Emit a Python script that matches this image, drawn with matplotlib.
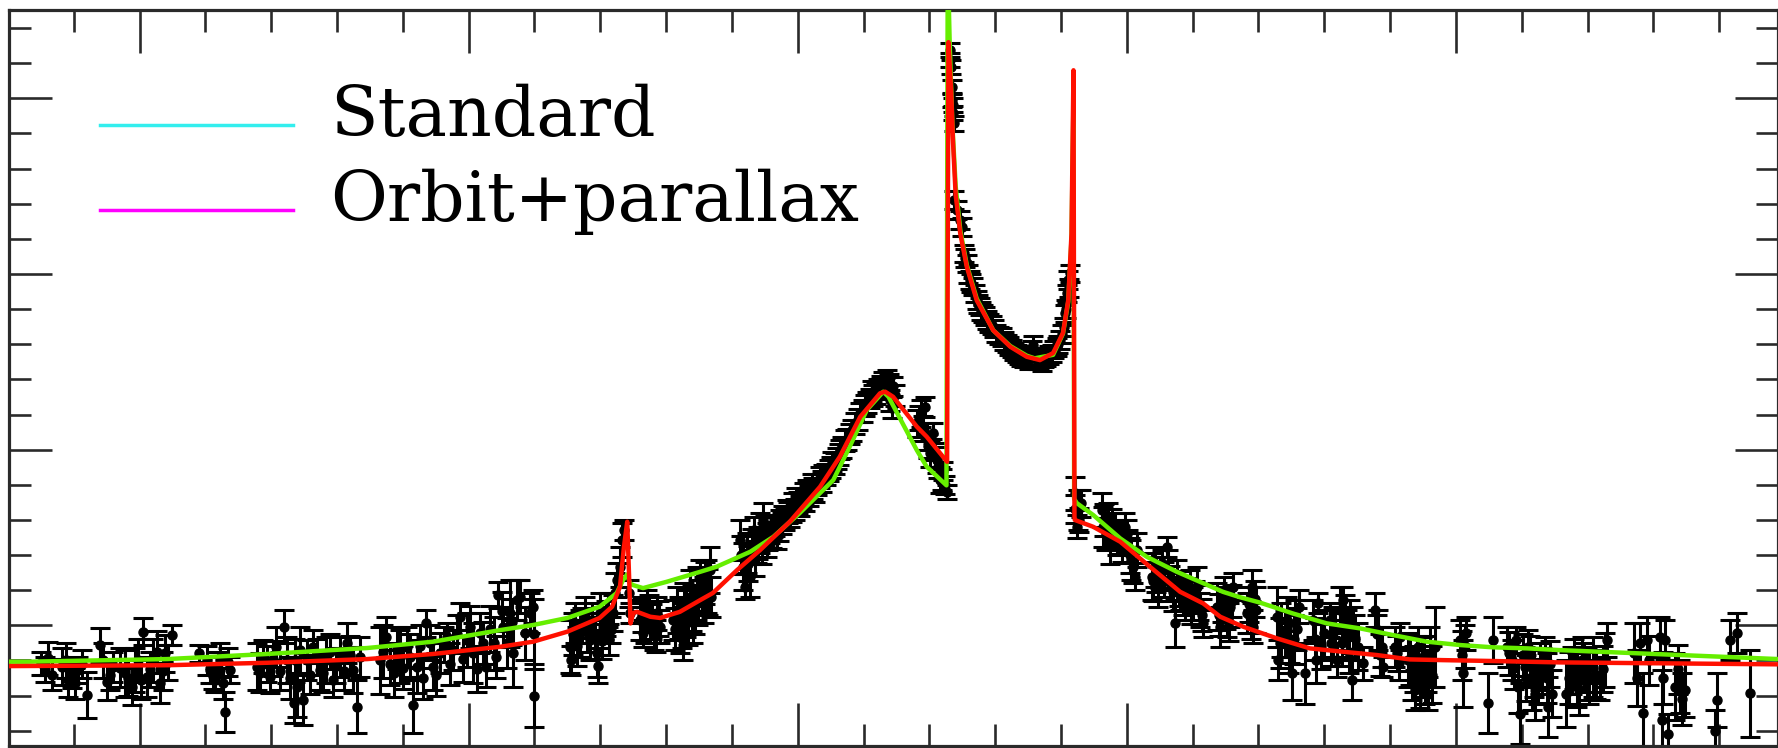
import matplotlib
matplotlib.use("Agg")
import matplotlib.pyplot as plt
from matplotlib.ticker import MultipleLocator
from matplotlib.lines import Line2D
from matplotlib.legend_handler import HandlerLine2D

# ---------------- data (time in days, brightness in arbitrary units) ----------------
# observed points: (t, y, err)
baseline_pts = [
    (-1.49, -0.217, 0.066), (-1.39, -0.188, 0.095), (-1.18, -0.235, 0.104), (-1.08, -0.311, 0.095),
    (-1.03, -0.273, 0.085), (-0.93, -0.254, 0.076), (-0.80, -0.397, 0.133), (-0.60, -0.112, 0.095),
    (-0.50, -0.321, 0.104), (-0.40, -0.235, 0.085), (-0.22, -0.273, 0.133), (-0.12, -0.349, 0.104),
    (-0.07, -0.254, 0.123), (0.06, -0.036, 0.076), (0.11, -0.292, 0.114), (0.21, -0.198, 0.123),
    (0.31, -0.330, 0.114), (0.39, -0.160, 0.104), (0.49, -0.055, 0.057), (0.91, -0.160, 0.047),
    (1.07, -0.254, 0.076), (1.15, -0.311, 0.066), (1.22, -0.198, 0.095), (1.30, -0.492, 0.114),
    (1.38, -0.254, 0.076), (1.78, -0.235, 0.133), (1.88, -0.179, 0.095), (1.98, -0.292, 0.095),
    (2.08, -0.122, 0.114), (2.19, -0.008, 0.095), (2.24, -0.198, 0.133), (2.34, -0.444, 0.114),
    (2.39, -0.349, 0.171), (2.44, -0.141, 0.133), (2.49, -0.425, 0.142), (2.54, -0.198, 0.114),
    (2.64, -0.122, 0.095), (2.74, -0.254, 0.114), (2.84, -0.198, 0.133), (2.94, -0.311, 0.095),
    (3.05, -0.179, 0.114), (3.15, -0.103, 0.114), (3.25, -0.254, 0.133), (3.30, -0.463, 0.152),
    (3.35, -0.179, 0.114), (3.65, -0.198, 0.190), (3.75, -0.065, 0.114), (3.86, -0.273, 0.133),
    (3.96, -0.179, 0.152), (4.06, -0.122, 0.114), (4.16, -0.454, 0.161), (4.21, -0.235, 0.152),
    (4.36, 0.011, 0.076), (4.46, -0.235, 0.133), (4.57, -0.160, 0.114), (4.67, -0.065, 0.076),
    (4.77, -0.141, 0.114), (4.87, 0.049, 0.076), (4.97, -0.084, 0.152), (5.07, -0.160, 0.171),
    (5.17, -0.046, 0.114), (5.27, -0.235, 0.114), (5.38, -0.103, 0.152), (5.45, 0.172, 0.076),
    (5.53, -0.008, 0.114), (5.63, 0.068, 0.190), (5.68, -0.160, 0.190), (5.73, 0.144, 0.114),
    (5.78, 0.163, 0.095), (5.86, -0.046, 0.152), (5.93, 0.068, 0.114), (5.98, 0.106, 0.095),
    (5.99, -0.05, 0.200), (5.99, -0.40, 0.180),
    (-1.44, -0.25, 0.07), (-1.33, -0.28, 0.09), (-1.12, -0.20, 0.10), (-0.98, -0.33, 0.09),
    (-0.88, -0.22, 0.08), (-0.55, -0.20, 0.10), (-0.45, -0.28, 0.09), (-0.30, -0.24, 0.11),
    (-0.17, -0.30, 0.10), (-0.02, -0.20, 0.12), (0.03, -0.31, 0.11), (0.16, -0.25, 0.10),
    (0.26, -0.15, 0.12), (0.35, -0.26, 0.11), (0.44, -0.21, 0.10), (1.02, -0.20, 0.08),
    (1.11, -0.29, 0.07), (1.19, -0.24, 0.09), (1.27, -0.33, 0.09), (1.34, -0.21, 0.08),
    (1.83, -0.27, 0.11), (1.93, -0.22, 0.10), (2.03, -0.19, 0.10), (2.13, -0.26, 0.11),
    (2.29, -0.30, 0.12), (2.36, -0.20, 0.12), (2.59, -0.28, 0.11), (2.69, -0.18, 0.10),
    (2.79, -0.27, 0.11), (2.89, -0.15, 0.10), (2.99, -0.23, 0.10), (3.10, -0.26, 0.11),
    (3.20, -0.17, 0.11), (3.70, -0.15, 0.15), (3.80, -0.22, 0.12), (3.91, -0.13, 0.12),
    (4.01, -0.24, 0.12), (4.11, -0.18, 0.13), (4.26, -0.12, 0.12), (4.31, -0.30, 0.12),
    (4.41, -0.10, 0.10), (4.51, -0.28, 0.12), (4.62, -0.11, 0.10), (4.72, -0.22, 0.12),
    (4.82, -0.05, 0.11), (4.92, -0.19, 0.13), (5.02, -0.01, 0.12), (5.12, -0.25, 0.13),
    (5.22, -0.10, 0.12), (5.32, -0.02, 0.13), (5.42, -0.18, 0.12), (5.50, 0.08, 0.11),
    (5.58, -0.10, 0.14), (5.66, 0.02, 0.13),
]

small_caustic_pts = [
    (6.54, -0.121, 0.152), (6.55, -0.20, 0.080), (6.62, 0.011, 0.114), (6.69, -0.046, 0.133),
    (6.77, 0.068, 0.095), (6.84, -0.084, 0.114), (6.95, -0.160, 0.133), (6.97, -0.23, 0.100),
    (7.00, 0.068, 0.114), (7.05, 0.011, 0.095), (7.12, 0.087, 0.095), (7.17, -0.027, 0.076),
    (7.22, 0.182, 0.114), (7.25, 0.258, 0.095), (7.30, 0.334, 0.114), (7.33, 0.486, 0.095),
    (7.36, 0.542, 0.057), (7.43, 0.182, 0.076), (7.45, 0.068, 0.057),
    (7.60, 0.030, 0.114), (7.65, -0.046, 0.076), (7.71, 0.106, 0.095), (7.76, 0.011, 0.114),
    (7.81, -0.027, 0.114), (7.86, 0.068, 0.095), (7.91, -0.008, 0.095),
    (8.11, 0.030, 0.114), (8.16, 0.087, 0.133), (8.21, -0.046, 0.114), (8.26, -0.084, 0.114),
    (8.31, 0.068, 0.133), (8.36, 0.163, 0.152), (8.41, 0.030, 0.133), (8.47, 0.182, 0.152),
    (8.52, 0.258, 0.114), (8.57, 0.144, 0.133), (8.62, 0.220, 0.152), (8.67, 0.315, 0.133),
    (8.69, 0.163, 0.114),
    (6.58, -0.05, 0.12), (6.65, -0.12, 0.11), (6.73, 0.00, 0.10), (6.80, -0.04, 0.11),
    (6.88, 0.03, 0.10), (6.92, -0.07, 0.12), (7.02, -0.09, 0.10), (7.09, 0.04, 0.10),
    (7.14, -0.08, 0.09), (7.20, 0.07, 0.10), (7.63, 0.06, 0.10), (7.68, -0.01, 0.09),
    (7.74, 0.07, 0.10), (7.79, 0.02, 0.10), (7.84, -0.06, 0.09), (7.89, 0.04, 0.10),
    (8.13, -0.02, 0.12), (8.19, 0.04, 0.12), (8.24, 0.00, 0.13), (8.28, 0.12, 0.12),
    (8.34, 0.02, 0.13), (8.39, 0.10, 0.13), (8.44, 0.08, 0.13), (8.49, 0.13, 0.13),
    (8.54, 0.20, 0.12), (8.59, 0.24, 0.12), (8.64, 0.19, 0.13),
]

rise_pts = [
    (9.12, 0.486, 0.114), (9.17, 0.334, 0.133), (9.20, 0.22, 0.070), (9.23, 0.410, 0.114),
    (9.28, 0.277, 0.114), (9.33, 0.542, 0.076), (9.38, 0.448, 0.095), (9.43, 0.524, 0.114),
    (9.48, 0.600, 0.095), (9.53, 0.486, 0.095),
    (9.58, 0.53, 0.060), (9.63, 0.56, 0.055), (9.68, 0.50, 0.065), (9.73, 0.60, 0.055),
    (9.78, 0.62, 0.060), (9.83, 0.66, 0.055), (9.88, 0.62, 0.060), (9.93, 0.70, 0.055),
    (9.98, 0.72, 0.060), (10.04, 0.68, 0.055), (10.09, 0.75, 0.060), (10.14, 0.77, 0.055),
    (10.21, 0.80, 0.060), (10.26, 0.76, 0.055), (10.34, 0.84, 0.060), (10.39, 0.86, 0.055),
    (10.47, 0.88, 0.060), (10.52, 0.93, 0.055), (10.59, 0.95, 0.060), (10.64, 1.00, 0.055),
    (10.72, 1.05, 0.060), (10.79, 1.09, 0.055), (10.87, 1.15, 0.060), (10.95, 1.21, 0.055),
    (11.02, 1.25, 0.060), (11.10, 1.29, 0.055), (11.15, 1.31, 0.060), (11.22, 1.35, 0.055),
    (11.30, 1.38, 0.060), (11.35, 1.40, 0.055), (11.40, 1.28, 0.060), (11.43, 1.24, 0.060),
    (11.45, 1.36, 0.055),
    (9.14, 0.40, 0.11), (9.25, 0.35, 0.10), (9.30, 0.45, 0.10), (9.35, 0.38, 0.10),
    (9.40, 0.47, 0.09), (9.45, 0.44, 0.09), (9.50, 0.54, 0.08), (9.55, 0.50, 0.07),
    (9.61, 0.50, 0.06), (9.66, 0.57, 0.06), (9.71, 0.54, 0.06), (9.76, 0.58, 0.06),
    (9.81, 0.60, 0.06), (9.86, 0.64, 0.06), (9.91, 0.65, 0.06), (9.96, 0.66, 0.06),
    (10.01, 0.70, 0.06), (10.06, 0.72, 0.06), (10.11, 0.71, 0.06), (10.17, 0.74, 0.06),
    (10.24, 0.78, 0.06), (10.30, 0.80, 0.06), (10.37, 0.82, 0.06), (10.43, 0.86, 0.06),
    (10.50, 0.90, 0.06), (10.56, 0.92, 0.06), (10.62, 0.97, 0.06), (10.68, 1.01, 0.06),
    (10.75, 1.06, 0.06), (10.83, 1.11, 0.06), (10.91, 1.17, 0.06), (10.99, 1.22, 0.06),
    (11.06, 1.27, 0.06), (11.13, 1.33, 0.06), (11.19, 1.32, 0.06), (11.26, 1.36, 0.06),
    (11.33, 1.35, 0.06), (11.38, 1.37, 0.06), (11.48, 1.31, 0.06),
    (11.81, 1.150, 0.076), (11.88, 1.207, 0.076), (11.93, 1.245, 0.057), (11.96, 1.074, 0.076),
    (12.01, 0.979, 0.076), (12.06, 1.093, 0.057), (12.11, 0.941, 0.076), (12.16, 0.827, 0.076),
    (12.21, 0.88, 0.050), (12.24, 0.80, 0.050), (12.27, 0.76, 0.040),
    (11.84, 1.18, 0.07), (11.90, 1.12, 0.07), (11.98, 1.02, 0.07), (12.04, 1.00, 0.06),
    (12.08, 0.97, 0.07), (12.13, 0.90, 0.06), (12.19, 0.83, 0.06),
]

caustic_u_pts = [
    (12.31, 3.275, 0.040), (12.32, 3.22, 0.040), (12.33, 3.18, 0.040), (12.34, 3.066, 0.040),
    (12.35, 2.99, 0.040), (12.36, 2.96, 0.040), (12.36, 2.915, 0.040), (12.37, 2.857, 0.040),
    (12.37, 2.421, 0.050), (12.42, 2.364, 0.050), (12.47, 2.307, 0.050), (12.49, 2.269, 0.050),
    (12.52, 2.117, 0.050), (12.57, 2.061, 0.050), (12.62, 1.966, 0.050), (12.67, 1.928, 0.050),
    (12.72, 1.852, 0.050), (12.77, 1.814, 0.050), (12.82, 1.776, 0.050), (12.87, 1.738, 0.050),
    (12.95, 1.709, 0.050), (13.02, 1.662, 0.050), (13.10, 1.643, 0.050), (13.18, 1.605, 0.050),
    (13.25, 1.577, 0.050), (13.33, 1.548, 0.050), (13.40, 1.529, 0.050), (13.48, 1.519, 0.050),
    (13.56, 1.567, 0.050), (13.58, 1.596, 0.050), (13.63, 1.510, 0.050), (13.71, 1.500, 0.050),
    (13.78, 1.529, 0.050), (13.86, 1.548, 0.050), (13.94, 1.586, 0.050), (13.99, 1.624, 0.050),
    (14.04, 1.700, 0.050), (14.06, 1.776, 0.050), (14.09, 1.890, 0.050), (14.11, 1.966, 0.050),
    (14.13, 2.004, 0.050),
    (12.54, 2.09, 0.05), (12.59, 2.00, 0.05), (12.64, 1.95, 0.05), (12.70, 1.89, 0.05),
    (12.74, 1.83, 0.05), (12.79, 1.79, 0.05), (12.84, 1.76, 0.05), (12.90, 1.72, 0.05),
    (12.98, 1.69, 0.05), (13.06, 1.65, 0.05), (13.14, 1.62, 0.05), (13.21, 1.59, 0.05),
    (13.29, 1.56, 0.05), (13.36, 1.54, 0.05), (13.44, 1.52, 0.05), (13.52, 1.51, 0.05),
    (13.60, 1.53, 0.05), (13.67, 1.51, 0.05), (13.74, 1.52, 0.05), (13.82, 1.54, 0.05),
    (13.90, 1.57, 0.05), (13.96, 1.60, 0.05), (14.01, 1.66, 0.05), (14.07, 1.80, 0.05),
    (14.12, 1.92, 0.05),
]

decline_pts = [
    (14.21, 0.751, 0.095), (14.24, 0.561, 0.066), (14.26, 0.656, 0.114), (14.30, 0.694, 0.076),
    (14.62, 0.656, 0.095), (14.64, 0.561, 0.114), (14.72, 0.618, 0.076), (14.75, 0.466, 0.114),
    (14.82, 0.542, 0.095), (14.90, 0.504, 0.095), (14.97, 0.561, 0.076), (15.02, 0.448, 0.095),
    (15.07, 0.372, 0.114), (15.13, 0.277, 0.076), (15.15, 0.429, 0.095), (15.38, 0.277, 0.133),
    (15.43, 0.334, 0.114), (15.48, 0.220, 0.114), (15.53, 0.353, 0.076), (15.61, 0.448, 0.057),
    (15.63, 0.315, 0.114), (15.73, 0.011, 0.133), (15.76, 0.258, 0.114), (15.81, 0.182, 0.095),
    (15.88, 0.144, 0.114), (15.96, 0.220, 0.095), (16.01, 0.125, 0.095), (16.06, 0.220, 0.114),
    (16.11, 0.087, 0.095), (16.16, 0.011, 0.076), (16.37, 0.106, 0.133), (16.42, -0.008, 0.114),
    (16.47, 0.182, 0.095), (16.52, 0.049, 0.114), (16.57, 0.106, 0.114), (16.62, 0.220, 0.076),
    (16.82, 0.068, 0.114), (16.90, 0.220, 0.095), (16.92, -0.008, 0.095), (16.97, 0.087, 0.133),
    (14.22, 0.66, 0.08), (14.27, 0.60, 0.07), (14.66, 0.60, 0.09), (14.69, 0.52, 0.09),
    (14.78, 0.58, 0.08), (14.85, 0.49, 0.09), (14.93, 0.45, 0.09), (15.00, 0.52, 0.08),
    (15.05, 0.40, 0.10), (15.10, 0.33, 0.09), (15.40, 0.25, 0.11), (15.45, 0.29, 0.10),
    (15.50, 0.30, 0.09), (15.56, 0.26, 0.10), (15.66, 0.24, 0.10), (15.70, 0.19, 0.11),
    (15.79, 0.21, 0.10), (15.85, 0.16, 0.10), (15.91, 0.18, 0.09), (15.98, 0.11, 0.10),
    (16.04, 0.16, 0.09), (16.09, 0.13, 0.10), (16.14, 0.06, 0.09), (16.40, 0.06, 0.12),
    (16.45, 0.12, 0.10), (16.50, 0.09, 0.11), (16.55, 0.02, 0.11), (16.60, 0.14, 0.09),
    (16.85, 0.12, 0.10), (16.88, 0.03, 0.11), (16.95, 0.15, 0.10),
]

tail_pts = [
    (17.28, 0.049, 0.171), (17.30, -0.198, 0.114), (17.35, -0.027, 0.152), (17.43, 0.030, 0.133),
    (17.48, -0.103, 0.114), (17.51, -0.274, 0.152), (17.56, 0.011, 0.133), (17.61, 0.106, 0.095),
    (17.71, -0.274, 0.171), (17.83, 0.030, 0.114), (17.88, -0.198, 0.133), (17.91, 0.125, 0.057),
    (17.99, -0.046, 0.133), (18.09, 0.030, 0.095), (18.14, -0.046, 0.152), (18.19, -0.198, 0.095),
    (18.24, 0.087, 0.133), (18.29, 0.144, 0.076), (18.34, -0.046, 0.133), (18.39, 0.030, 0.114),
    (18.42, -0.312, 0.114), (18.44, -0.027, 0.133), (18.52, -0.122, 0.133), (18.59, -0.217, 0.095),
    (18.77, 0.087, 0.095), (18.82, -0.027, 0.114), (18.87, -0.122, 0.114), (18.90, -0.236, 0.057),
    (19.08, -0.122, 0.114), (19.13, -0.217, 0.095), (19.15, -0.065, 0.076), (19.28, -0.198, 0.152),
    (19.33, -0.274, 0.152), (19.38, -0.369, 0.114), (19.43, -0.122, 0.114), (19.48, -0.236, 0.171),
    (19.53, -0.293, 0.152), (19.58, -0.388, 0.095), (19.61, -0.179, 0.171), (19.68, -0.122, 0.228),
    (20.06, -0.084, 0.114), (20.11, -0.274, 0.190), (20.16, -0.046, 0.095), (20.49, -0.444, 0.171),
    (20.57, -0.084, 0.133), (20.77, -0.122, 0.114), (20.85, -0.198, 0.114), (20.92, -0.084, 0.076),
    (20.97, -0.502, 0.171), (21.05, -0.236, 0.114), (21.10, -0.122, 0.095), (21.15, -0.312, 0.171),
    (21.20, -0.388, 0.152), (21.28, -0.236, 0.133), (21.35, -0.160, 0.095), (21.40, -0.463, 0.171),
    (21.46, -0.388, 0.133),
    (21.68, -0.388, 0.190), (21.76, -0.255, 0.133), (21.84, -0.312, 0.152), (21.91, -0.198, 0.133),
    (21.99, -0.274, 0.152), (22.09, -0.236, 0.171), (22.19, -0.312, 0.114), (22.27, -0.198, 0.152),
    (22.29, -0.084, 0.095), (22.70, -0.160, 0.171), (22.80, -0.103, 0.114), (22.85, -0.501, 0.228),
    (22.90, -0.084, 0.133), (23.10, -0.065, 0.114), (23.13, -0.539, 0.285), (23.18, -0.084, 0.114),
    (23.23, -0.616, 0.114), (23.33, -0.349, 0.190), (23.40, -0.349, 0.152), (23.48, -0.368, 0.152),
    (23.94, -0.600, 0.120), (23.96, -0.425, 0.152), (24.16, -0.084, 0.114), (24.27, -0.046, 0.114),
    (24.47, -0.387, 0.247),
    (17.33, -0.10, 0.14), (17.40, -0.05, 0.13), (17.46, -0.15, 0.12), (17.54, -0.08, 0.14),
    (17.59, -0.02, 0.12), (17.86, -0.08, 0.12), (17.95, -0.12, 0.13), (18.11, -0.10, 0.13),
    (18.17, -0.02, 0.12), (18.27, -0.10, 0.13), (18.32, 0.05, 0.12), (18.37, -0.15, 0.12),
    (18.47, -0.07, 0.13), (18.80, -0.05, 0.11), (18.85, -0.17, 0.12), (19.10, -0.16, 0.10),
    (19.31, -0.20, 0.14), (19.36, -0.25, 0.13), (19.41, -0.18, 0.12), (19.46, -0.32, 0.15),
    (19.51, -0.20, 0.14), (19.56, -0.26, 0.12), (19.64, -0.28, 0.16), (20.09, -0.17, 0.14),
    (20.14, -0.12, 0.12), (20.80, -0.16, 0.12), (20.88, -0.24, 0.12), (20.95, -0.35, 0.15),
    (21.02, -0.17, 0.12), (21.07, -0.30, 0.13), (21.13, -0.20, 0.14), (21.18, -0.27, 0.14),
    (21.25, -0.32, 0.13), (21.31, -0.26, 0.13), (21.38, -0.30, 0.14), (21.43, -0.22, 0.13),
    (21.72, -0.30, 0.15), (21.80, -0.22, 0.14), (21.87, -0.36, 0.15), (21.95, -0.24, 0.14),
    (22.03, -0.30, 0.15), (22.13, -0.28, 0.14), (22.23, -0.25, 0.13), (22.75, -0.30, 0.16),
    (22.93, -0.20, 0.14), (23.15, -0.30, 0.15), (23.37, -0.25, 0.14), (23.44, -0.42, 0.15),
]

# model curves
standard_t = [-2.0, -1.71, 0.42, 1.94, 3.46, 4.46, 5.48, 5.98, 6.50, 6.99,
              7.25, 7.35, 7.41, 7.45, 7.50, 7.65, 8.01, 8.52, 8.77, 9.28,
              9.63, 10.03, 10.54, 10.79, 11.05, 11.30, 11.38, 11.81, 11.96, 12.26,
              12.28, 12.31, 12.35, 12.40, 12.47, 12.57, 12.72, 12.97, 13.23, 13.48,
              13.60, 13.88, 14.03, 14.11, 14.16, 14.19, 14.20, 14.24, 14.49, 14.90,
              15.30, 15.76, 16.16, 16.46, 16.72, 17.02, 17.52, 18.04, 18.54, 19.04,
              19.56, 20.06, 20.56, 21.08, 21.58, 24.9]
standard_y = [-0.207, -0.207, -0.192, -0.163, -0.129, -0.093, -0.027, 0.002, 0.042, 0.106,
              0.184, 0.26, 0.29, 0.24, 0.229, 0.212, 0.248, 0.305, 0.334, 0.419,
              0.504, 0.639, 0.827, 1.017, 1.226, 1.330, 1.301, 0.997, 0.903, 0.797,
              3.8, 3.3, 2.85, 2.5, 2.25, 2.05, 1.86, 1.68, 1.59, 1.535,
              1.52, 1.54, 1.66, 1.84, 2.2, 3.0, 0.72, 0.696, 0.628, 0.495,
              0.391, 0.305, 0.240, 0.191, 0.160, 0.130, 0.068, 0.011, -0.017, -0.055,
              -0.093, -0.112, -0.125, -0.131, -0.141, -0.192]

orbit_t = [-2.0, 0.42, 1.94, 3.46, 4.46, 5.48, 5.98, 6.50, 6.99, 7.18,
           7.30, 7.36, 7.41, 7.44, 7.46, 7.50, 7.56, 7.76, 7.91, 8.21,
           8.52, 8.71, 9.08, 9.43, 9.88, 10.34, 10.64, 10.95, 11.25, 11.33,
           11.45, 11.81, 11.96, 12.27, 12.29, 12.30, 12.33, 12.36, 12.40, 12.47,
           12.57, 12.72, 12.97, 13.23, 13.48, 13.68, 13.88, 14.03, 14.11, 14.16,
           14.19, 14.205, 14.21, 14.49, 14.90, 15.35, 15.81, 16.16, 16.42, 16.77,
           17.28, 17.78, 18.28, 18.80, 19.30, 19.80, 20.56, 21.58, 24.9]
orbit_y = [-0.232, -0.227, -0.213, -0.192, -0.163, -0.122, -0.093, -0.036, 0.042, 0.106,
           0.220, 0.447, 0.590, 0.258, 0.011, 0.070, 0.077, 0.049, 0.042, 0.077,
           0.144, 0.184, 0.315, 0.429, 0.590, 0.789, 0.960, 1.187, 1.321, 1.330,
           1.301, 1.131, 1.074, 0.931, 3.32, 3.25, 3.05, 2.75, 2.45, 2.23,
           2.04, 1.85, 1.68, 1.586, 1.529, 1.51, 1.55, 1.664, 1.85, 2.23,
           3.16, 0.62, 0.60, 0.561, 0.476, 0.334, 0.191, 0.125, 0.049, -0.008,
           -0.074, -0.131, -0.150, -0.169, -0.194, -0.198, -0.203, -0.211, -0.222]

legend_labels = ["Standard", "Orbit+parallax"]
legend_colors = ["#33EEEE", "#FF00FF"]


class LowLineHandler(HandlerLine2D):
    """Legend line drawn a little above the text baseline, as in the original."""
    def create_artists(self, legend, orig_handle, xdescent, ydescent, width, height,
                       fontsize, trans):
        arts = super().create_artists(legend, orig_handle, xdescent, ydescent, width,
                                      height, fontsize, trans)
        for a in arts:
            a.set_ydata([0.16 * fontsize] * len(a.get_xdata()))
        return arts


# ---------------- figure ----------------
W, H, DPI = 1778, 748, 100
fig = plt.figure(figsize=(W / DPI, H / DPI), dpi=DPI)
ax = fig.add_axes([9 / W, 2.5 / H, 1 - 9 / W, (H - 10 - 2.5) / H])

all_pts = baseline_pts + small_caustic_pts + rise_pts + caustic_u_pts + decline_pts + tail_pts
t = [p[0] for p in all_pts]
y = [p[1] for p in all_pts]
e = [p[2] for p in all_pts]

ax.errorbar(t, y, yerr=e, fmt='o', color='black', ms=6.5, elinewidth=2.2,
            capsize=7, capthick=2.2, zorder=2)
ax.plot(standard_t, standard_y, color='#66EE00', lw=3.2, zorder=3)
ax.plot(orbit_t, orbit_y, color='#FF1000', lw=3.2, zorder=4)

ax.set_xlim(-1.983, 24.894)
ax.set_ylim(-0.684, 3.503)

ax.xaxis.set_major_locator(MultipleLocator(5))
ax.xaxis.set_minor_locator(MultipleLocator(1))
ax.yaxis.set_major_locator(MultipleLocator(1))
ax.yaxis.set_minor_locator(MultipleLocator(0.2))
ax.tick_params(which='both', direction='in', top=True, right=True, bottom=True, left=True,
               labelbottom=False, labelleft=False, color='#2a2a2a', width=1.9)
ax.tick_params(which='major', length=31)
ax.tick_params(which='minor', length=16)
for s in ax.spines.values():
    s.set_linewidth(2.3)
    s.set_color('#2a2a2a')

handles = [Line2D([], [], color=c, lw=2.5) for c in legend_colors]
ax.legend(handles, legend_labels, loc='upper left', bbox_to_anchor=(0.0514, 0.900),
          frameon=False, borderaxespad=0, borderpad=0, handlelength=2.78,
          handletextpad=0.53, labelspacing=0.27,
          handler_map={Line2D: LowLineHandler()},
          prop={'family': 'DejaVu Serif', 'size': 50})

fig.savefig('out.png', dpi=DPI)
